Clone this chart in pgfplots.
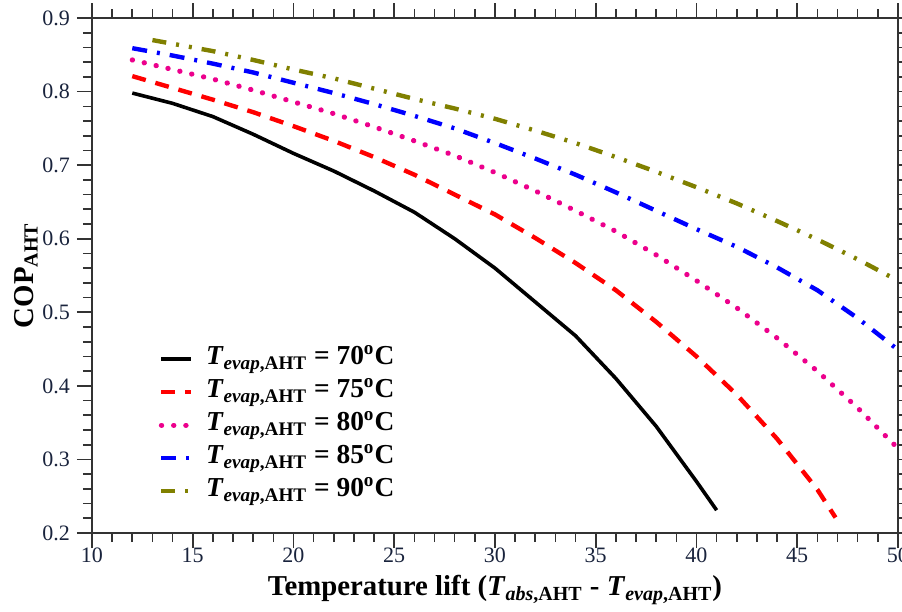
\documentclass[border=0pt]{standalone}
\usepackage{pgfplots}
\pgfplotsset{compat=1.18}
\usepackage{fontspec}
\setmainfont{Liberation Serif}
\definecolor{olivec}{RGB}{128,128,0}
\definecolor{tickc}{RGB}{25,35,60}

\newcommand{\tev}[1]{\textbf{\textit{T}\textsubscript{\textit{evap},AHT} = #1\textsuperscript{o}C}}

\begin{document}
\begin{tikzpicture}
\useasboundingbox (-46pt,-39.5pt) rectangle (405pt,266.5pt);
\begin{axis}[
  scale only axis, width=403pt, height=257.5pt,
  xmin=10, xmax=50, ymin=0.2, ymax=0.9,
  xtick={10,15,...,50}, ytick={0.2,0.3,...,0.9},
  minor x tick num=4, minor y tick num=4,
  tick align=outside,
  major tick length=7.5pt, minor tick length=4.5pt,
  axis line style={line width=1pt, black!80},
  every tick/.style={black!80, line width=0.8pt},
  /pgf/number format/assume math mode=true,
  ticklabel style={font=\fontsize{11}{13}\selectfont, text=tickc},
  xticklabel style={yshift=3.5pt},
  yticklabel style={/pgf/number format/.cd, fixed, fixed zerofill, precision=1},
  every axis x label/.style={at={(axis description cs:0.5,0)}, yshift=-28.5pt, anchor=center,
    font=\fontsize{14.4}{17}\selectfont},
  every axis y label/.style={at={(axis description cs:0,0.5)}, xshift=-33pt, rotate=90, anchor=center,
    font=\fontsize{14.4}{17}\selectfont},
  xlabel={\textbf{Temperature lift (\textit{T}\textsubscript{\textit{abs},AHT} - \textit{T}\textsubscript{\textit{evap},AHT})}},
  ylabel={\textbf{COP\textsubscript{AHT}}},
  legend style={draw=none, fill=none, at={(0.075,0.378)}, anchor=north west,
    font=\fontsize{13.7}{16}\selectfont, row sep=0pt,
    nodes={text height=9.5pt, text depth=4pt, inner ysep=1.5pt, inner xsep=3pt},
    /tikz/every odd column/.append style={column sep=3pt}},
  legend cell align=left,
  legend image code/.code={\draw[#1] (0pt,0pt) -- (15pt,0pt);},
]
\addplot[black, line width=1.8pt] coordinates {
(12,0.798) (14,0.784) (16,0.766) (18,0.742) (20,0.716) (22,0.692) (24,0.665)
(26,0.636) (28,0.600) (30,0.560) (32,0.514) (34,0.468) (36,0.410) (38,0.345)
(40,0.270) (41,0.231)};
\addlegendentry{\tev{70}}
\addplot[red, line width=2.2pt, dash pattern=on 7pt off 5pt] coordinates {
(12,0.821) (14,0.805) (16,0.789) (18,0.772) (20,0.753) (22,0.733) (24,0.711)
(26,0.687) (28,0.660) (30,0.633) (32,0.601) (34,0.567) (36,0.530) (38,0.487)
(40,0.440) (42,0.388) (44,0.328) (46,0.259) (46.9,0.221)};
\addlegendentry{\tev{75}}
\addplot[magenta, line width=2.6pt, line cap=round, dash pattern=on 0.1pt off 6pt] coordinates {
(12,0.843) (14,0.830) (16,0.817) (18,0.802) (20,0.786) (22,0.770) (24,0.752)
(26,0.733) (28,0.713) (30,0.690) (32,0.665) (34,0.638) (36,0.610) (38,0.578)
(40,0.543) (42,0.506) (44,0.465) (46,0.420) (48,0.370) (50,0.315)};
\addlegendentry{\tev{80}}
\addplot[blue, line width=2.2pt, dash pattern=on 7.5pt off 5pt on 1.5pt off 5pt] coordinates {
(12,0.859) (14,0.849) (16,0.838) (18,0.826) (20,0.812) (22,0.798) (24,0.783)
(26,0.767) (28,0.750) (30,0.730) (32,0.709) (34,0.687) (36,0.663) (38,0.638)
(40,0.613) (42,0.589) (44,0.561) (46,0.530) (48,0.492) (50,0.449)};
\addlegendentry{\tev{85}}
\addplot[olivec, line width=2.2pt, dash pattern=on 7pt off 5pt on 1.5pt off 5pt on 1.5pt off 5pt] coordinates {
(13,0.870) (14,0.865) (16,0.855) (18,0.843) (20,0.830) (22,0.818) (24,0.804)
(26,0.790) (28,0.777) (30,0.763) (32,0.747) (34,0.730) (36,0.711) (38,0.691)
(40,0.670) (42,0.648) (44,0.624) (46,0.599) (48,0.572) (50,0.543)};
\addlegendentry{\tev{90}}
\end{axis}
\end{tikzpicture}
\end{document}
